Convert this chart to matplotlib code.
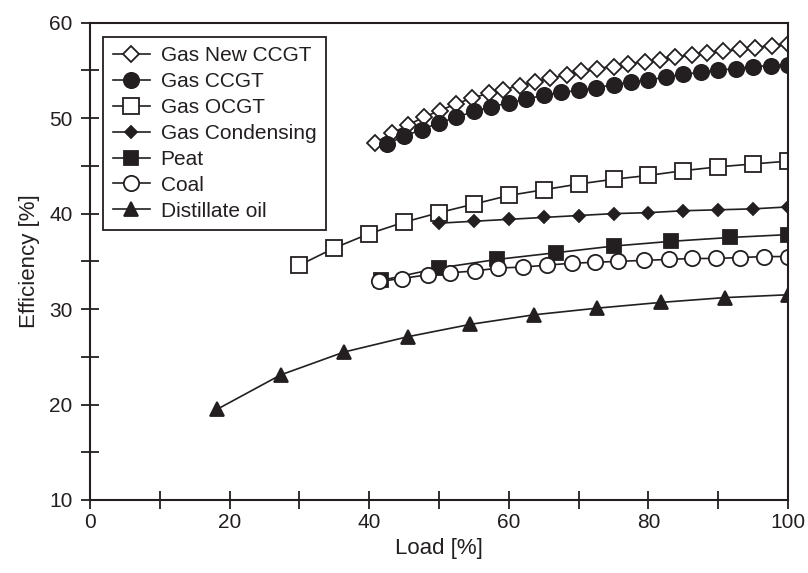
import matplotlib
matplotlib.use("Agg")
import matplotlib.pyplot as plt
from matplotlib.ticker import MultipleLocator

plt.rcParams['font.family'] = ['Liberation Sans', 'DejaVu Sans']

INK = '#231f20'

# Load [%] and efficiency [%] per plant type
new_ccgt_load = [40.8, 43.2, 45.6, 47.8, 50.1, 52.5, 54.7, 57.1, 59.2, 61.6, 63.8, 65.9, 68.3, 70.4,
                 72.6, 75.0, 77.1, 79.5, 81.7, 83.8, 86.2, 88.4, 90.7, 93.1, 95.3, 97.7, 100.0]
new_ccgt_eff = [47.4, 48.4, 49.3, 50.1, 50.8, 51.5, 52.1, 52.6, 53.0, 53.4, 53.8, 54.2, 54.5, 54.9,
                55.2, 55.4, 55.7, 55.9, 56.1, 56.4, 56.6, 56.8, 57.0, 57.2, 57.4, 57.6, 57.8]

ccgt_load = [42.5, 45.0, 47.5, 50.0, 52.5, 55.0, 57.5, 60.0, 62.5, 65.0, 67.5, 70.0,
             72.5, 75.0, 77.5, 80.0, 82.5, 85.0, 87.5, 90.0, 92.5, 95.0, 97.5, 100.0]
ccgt_eff = [47.3, 48.1, 48.8, 49.5, 50.1, 50.7, 51.2, 51.6, 52.0, 52.4, 52.7, 52.9,
            53.2, 53.5, 53.8, 54.0, 54.3, 54.6, 54.8, 55.0, 55.2, 55.4, 55.5, 55.6]

ocgt_load = [30, 35, 40, 45, 50, 55, 60, 65, 70, 75, 80, 85, 90, 95, 100]
ocgt_eff = [34.6, 36.4, 37.9, 39.1, 40.1, 41.0, 41.9, 42.5, 43.1, 43.6, 44.0, 44.5, 44.9, 45.2, 45.5]

cond_load = [50, 55, 60, 65, 70, 75, 80, 85, 90, 95, 100]
cond_eff = [39.0, 39.2, 39.4, 39.6, 39.8, 40.0, 40.1, 40.3, 40.4, 40.5, 40.7]

peat_load = [41.7, 50.0, 58.3, 66.7, 75.0, 83.3, 91.7, 100.0]
peat_eff = [33.0, 34.3, 35.2, 35.9, 36.6, 37.1, 37.5, 37.8]

coal_load = [41.4, 44.7, 48.4, 51.6, 55.2, 58.5, 62.1, 65.4, 69.0, 72.3, 75.7, 79.3,
             82.9, 86.2, 89.7, 93.1, 96.6, 100.0]
coal_eff = [32.9, 33.2, 33.6, 33.8, 34.0, 34.3, 34.4, 34.6, 34.8, 34.9, 35.0, 35.1,
            35.2, 35.3, 35.3, 35.4, 35.5, 35.5]

oil_load = [18.2, 27.3, 36.4, 45.5, 54.5, 63.6, 72.7, 81.8, 90.9, 100.0]
oil_eff = [19.5, 23.1, 25.5, 27.1, 28.4, 29.4, 30.1, 30.7, 31.2, 31.5]

series = [
    ("Gas New CCGT", new_ccgt_load, new_ccgt_eff, dict(marker='D', ms=8, mfc='white')),
    ("Gas CCGT", ccgt_load, ccgt_eff, dict(marker='o', ms=11, mfc=INK)),
    ("Gas OCGT", ocgt_load, ocgt_eff, dict(marker='s', ms=11, mfc='white')),
    ("Gas Condensing", cond_load, cond_eff, dict(marker='D', ms=6, mfc=INK)),
    ("Peat", peat_load, peat_eff, dict(marker='s', ms=10, mfc=INK)),
    ("Coal", coal_load, coal_eff, dict(marker='o', ms=11, mfc='white')),
    ("Distillate oil", oil_load, oil_eff, dict(marker='^', ms=10, mfc=INK)),
]

fig = plt.figure(figsize=(8.08, 5.73), dpi=100)
ax = fig.add_axes([0.1114, 0.1274, 0.8639, 0.833])

for label, x, y, style in series:
    ax.plot(x, y, color=INK, lw=1.2, mec=INK, mew=1.3, label=label, **style)

ax.set_xlim(0, 100)
ax.set_ylim(10, 60)
ax.xaxis.set_major_locator(MultipleLocator(20))
ax.xaxis.set_minor_locator(MultipleLocator(10))
ax.yaxis.set_major_locator(MultipleLocator(10))
ax.yaxis.set_minor_locator(MultipleLocator(5))

ax.tick_params(which='both', direction='inout', length=13, width=1.3, color=INK,
               labelsize=15, labelcolor=INK)
ax.tick_params(axis='x', which='major', pad=3)
ax.tick_params(axis='y', which='major', pad=6)
for sp in ax.spines.values():
    sp.set_linewidth(1.5)
    sp.set_color(INK)

ax.set_xlabel("Load [%]", fontsize=16, color=INK, labelpad=4)
ax.set_ylabel("Efficiency [%]", fontsize=16, color=INK, labelpad=7)

leg = ax.legend(loc='upper left', bbox_to_anchor=(0.019, 0.97), fontsize=15, numpoints=1,
                handlelength=1.8, handletextpad=0.5, labelspacing=0.33, borderpad=0.45,
                fancybox=False, framealpha=1, edgecolor=INK, borderaxespad=0)
leg.get_frame().set_linewidth(1.3)
for t in leg.get_texts():
    t.set_color(INK)

fig.savefig("out.png", dpi=100)
